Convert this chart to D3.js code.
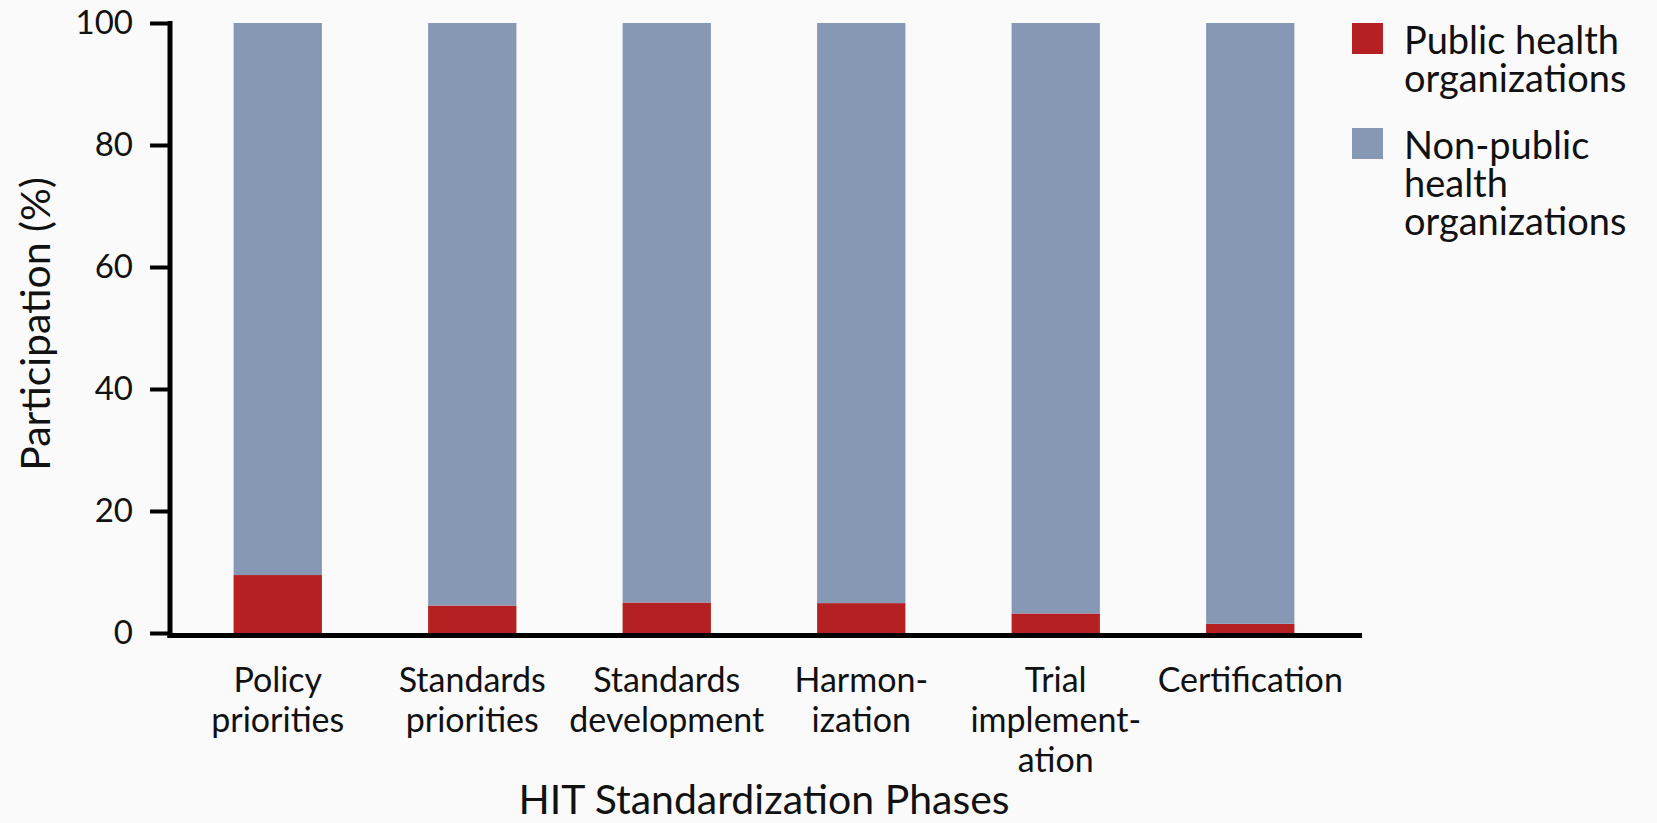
<!DOCTYPE html>
<html>
<head>
<meta charset="utf-8">
<script src="https://cdn.jsdelivr.net/npm/d3@7"></script>
<style>
  html, body { margin: 0; padding: 0; background: #fafafa; }
  svg { display: block; font-family: Lato, sans-serif; }
</style>
</head>
<body>
<div class="main"></div>
<script>
let categories = ['Policy priorities', 'Standards priorities', 'Standards development', 'Harmonization', 'Trial implementation', 'Certification']
let categoryLines = [
  ['Policy', 'priorities'],
  ['Standards', 'priorities'],
  ['Standards', 'development'],
  ['Harmon-', 'ization'],
  ['Trial', 'implement-', 'ation'],
  ['Certification']
]
let publicHealth = [9.5, 4.5, 5.0, 4.9, 3.2, 1.5]
let nonPublicHealth = [90.5, 95.5, 95.0, 95.1, 96.8, 98.5]
let yTicks = [0, 20, 40, 60, 80, 100]
let seriesNames = ['Public health organizations', 'Non-public health organizations']
let legendLines = [['Public health', 'organizations'], ['Non-public', 'health', 'organizations']]

let colors = ['#b52022', '#8798b5']
let width = 1657, height = 823

let svg = d3.select('.main').append('svg')
  .attr('width', width)
  .attr('height', height)

let xScale = d3.scaleBand()
  .domain(categories)
  .range([180.5, 1347.5])
  .paddingInner(0.546)
  .paddingOuter(0.273)

let yScale = d3.scaleLinear()
  .domain([0, 100])
  .range([633, 23])

let rows = categories.map((c, i) => ({cat: c, pub: publicHealth[i], non: nonPublicHealth[i]}))
let stacked = d3.stack().keys(['pub', 'non'])(rows)

svg.append('g')
  .selectAll('g').data(stacked).enter().append('g')
    .style('fill', (d, i) => colors[i])
  .selectAll('rect').data(d => d).enter().append('rect')
    .attr('x', d => xScale(d.data.cat))
    .attr('width', xScale.bandwidth())
    .attr('y', d => yScale(d[1]))
    .attr('height', d => yScale(d[0]) - yScale(d[1]))

// y axis
let yAxis = d3.axisLeft(yScale).tickValues(yTicks).tickSize(20).tickPadding(17)
let yg = svg.append('g')
  .attr('transform', 'translate(170, 0)')
  .call(yAxis)
yg.select('.domain').remove()
yg.selectAll('.tick line').attr('stroke', '#000').attr('stroke-width', 4)
yg.selectAll('.tick text')
  .attr('fill', '#111')
  .style('font-size', '33px')
  .style('font-family', 'Lato, sans-serif')

svg.append('line')
  .attr('x1', 170).attr('x2', 170)
  .attr('y1', yScale(100) - 2).attr('y2', 638)
  .attr('stroke', '#000').attr('stroke-width', 5)

// x axis line
svg.append('line')
  .attr('x1', 167.5).attr('x2', 1362)
  .attr('y1', 635.5).attr('y2', 635.5)
  .attr('stroke', '#000').attr('stroke-width', 5)

// category labels
svg.append('g')
  .selectAll('text').data(categories).enter().append('text')
    .attr('x', d => xScale(d) + xScale.bandwidth() / 2)
    .attr('y', 692)
    .attr('text-anchor', 'middle')
    .style('font-size', '34px')
    .attr('fill', '#111')
  .selectAll('tspan').data((d, i) => categoryLines[i]).enter().append('tspan')
    .attr('x', function () { return this.parentNode.getAttribute('x') })
    .attr('dy', (d, i) => i === 0 ? 0 : 40)
    .text(d => d)

// axis titles
svg.append('text')
  .attr('x', 764).attr('y', 814)
  .attr('text-anchor', 'middle')
  .style('font-size', '41px')
  .attr('fill', '#111')
  .text('HIT Standardization Phases')

svg.append('text')
  .attr('transform', 'translate(50, 324) rotate(-90)')
  .attr('text-anchor', 'middle')
  .style('font-size', '41px')
  .attr('fill', '#111')
  .text('Participation (%)')

// legend
let legend = svg.append('g')
  .selectAll('g').data(seriesNames).enter().append('g')
    .attr('transform', (d, i) => `translate(1352, ${i === 0 ? 23 : 128})`)

legend.append('rect')
  .attr('width', 31).attr('height', 31)
  .style('fill', (d, i) => colors[i])

legend.append('text')
  .attr('x', 52).attr('y', 31)
  .style('font-size', '38px')
  .attr('fill', '#111')
  .selectAll('tspan').data((d, i) => legendLines[i]).enter().append('tspan')
    .attr('x', 52)
    .attr('dy', (d, i) => i === 0 ? 0 : 38)
    .text(d => d)
</script>
</body>
</html>
